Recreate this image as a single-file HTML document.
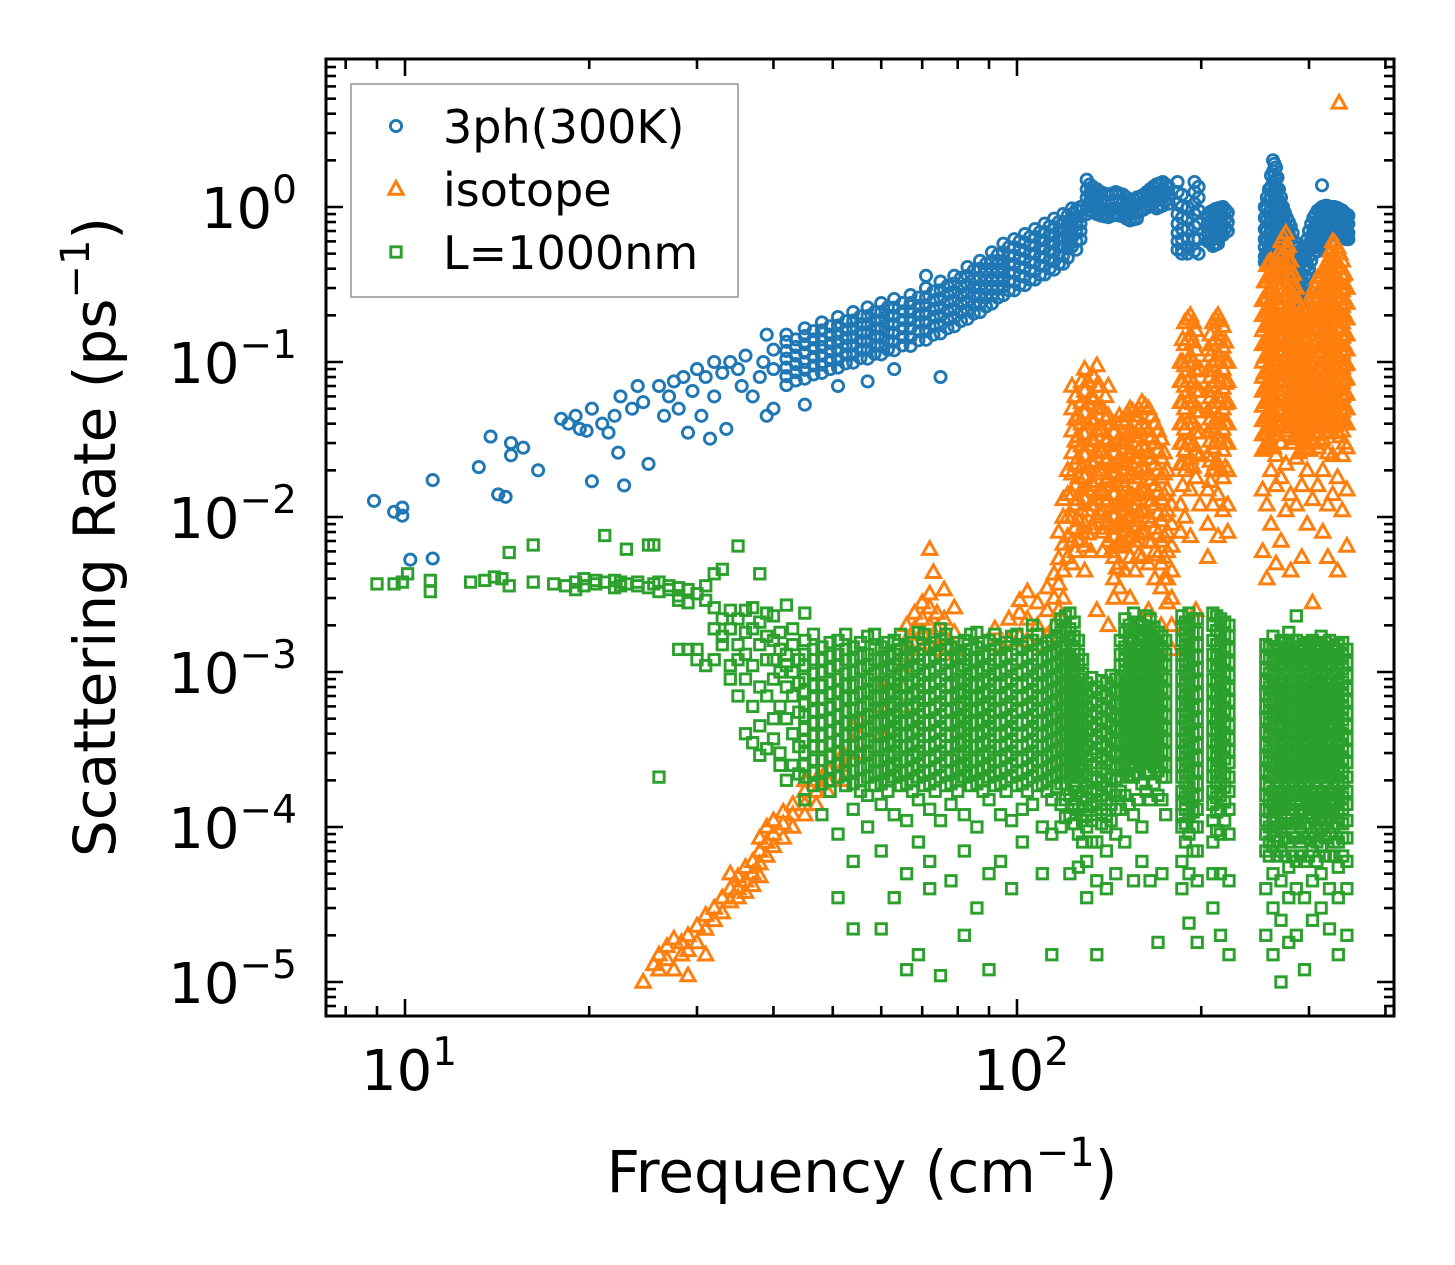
<!DOCTYPE html>
<html><head><meta charset="utf-8"><title>Scattering Rate vs Frequency</title>
<style>
html,body{margin:0;padding:0;background:#fff;}
svg{display:block;font-family:"DejaVu Sans","Liberation Sans",sans-serif;}
</style></head>
<body>
<svg id="chart" width="1455" height="1265" viewBox="0 0 1455 1265" xmlns="http://www.w3.org/2000/svg">
<rect width="1455" height="1265" fill="#fff"/>
<g id="marks"></g>
<g id="axes"></g>
<g id="legend"></g>
</svg>
<script>
// ---- data: [frequency (cm^-1), [scattering rates (ps^-1)...]] ----
const series3ph = [
[8.9,[0.0127]],[9.6,[0.0108]],[9.9,[0.0115,0.0102]],[10.2,[0.0053]],[11.1,[0.0173,0.0054]],
[13.2,[0.021]],[13.8,[0.033]],[14.2,[0.014]],[14.6,[0.0135]],[14.9,[0.030,0.025]],[15.6,[0.028]],[16.5,[0.020]],
[18,[0.043]],[18.5,[0.040]],[19,[0.045]],[19.3,[0.037]],[19.8,[0.036]],[20.2,[0.05,0.017]],[21,[0.04]],[21.5,[0.035]],
[22,[0.045]],[22.3,[0.026]],[22.5,[0.06]],[22.8,[0.016]],[23.5,[0.05]],[24,[0.07]],[24.5,[0.055]],[25,[0.022]],
[26,[0.07]],[26.5,[0.045]],[27,[0.06]],[27.5,[0.075]],[28,[0.05]],[28.5,[0.08]],[29,[0.035]],[29.5,[0.065]],
[30,[0.09]],[30.5,[0.045]],[31,[0.08]],[31.5,[0.032]],[32,[0.1,0.06]],[33,[0.085]],[33.5,[0.037]],[34,[0.1]],
[35,[0.09]],[35.5,[0.07]],[36,[0.11]],[37,[0.06]],[38,[0.08]],[38.5,[0.1]],[39,[0.15,0.045]],[40,[0.09,0.05,0.12]],
[42,[0.15,0.135,0.118,0.105,0.092,0.081,0.071]],[43.5,[0.14,0.125,0.11,0.097,0.086,0.076]],
[45,[0.165,0.147,0.13,0.115,0.1,0.089,0.078,0.053]],[46.5,[0.158,0.14,0.123,0.108,0.095,0.083]],
[48,[0.18,0.16,0.14,0.125,0.11,0.096,0.085]],[49.5,[0.17,0.15,0.132,0.117,0.103,0.09]],
[51,[0.195,0.172,0.152,0.135,0.119,0.104,0.092,0.07]],[52.5,[0.183,0.162,0.143,0.127,0.112,0.098]],
[54,[0.21,0.185,0.164,0.145,0.128,0.112,0.099]],[55.5,[0.197,0.175,0.155,0.137,0.12,0.106]],
[57,[0.225,0.198,0.175,0.155,0.136,0.12,0.105,0.075]],[58.5,[0.21,0.186,0.165,0.146,0.128,0.113]],
[60,[0.24,0.21,0.186,0.165,0.145,0.127,0.112]],[61.5,[0.225,0.2,0.176,0.156,0.137,0.12]],
[63,[0.255,0.224,0.198,0.175,0.154,0.135,0.119,0.09]],[65,[0.24,0.212,0.187,0.165,0.145,0.128]],
[67,[0.27,0.24,0.211,0.187,0.165,0.144,0.127]],[69,[0.26,0.23,0.203,0.18,0.158,0.138]],
[71,[0.3,0.262,0.232,0.205,0.18,0.158,0.139,0.36]],[73,[0.285,0.25,0.22,0.195,0.171,0.15]],
[75,[0.33,0.29,0.255,0.225,0.198,0.173,0.153,0.08]],[77,[0.31,0.275,0.243,0.214,0.188,0.165]],
[79,[0.36,0.32,0.283,0.25,0.22,0.193,0.17]],[81,[0.35,0.305,0.27,0.238,0.21,0.184]],
[83,[0.41,0.36,0.316,0.28,0.246,0.216,0.19]],[85,[0.39,0.34,0.3,0.265,0.233,0.205]],
[87,[0.45,0.4,0.35,0.31,0.273,0.24,0.21]],[89,[0.43,0.38,0.335,0.295,0.26,0.228]],
[91,[0.51,0.45,0.4,0.35,0.308,0.27,0.238]],[93,[0.49,0.43,0.38,0.335,0.295,0.26]],
[95,[0.58,0.51,0.45,0.4,0.35,0.308,0.27]],[97,[0.55,0.48,0.425,0.375,0.33,0.29]],
[99,[0.62,0.55,0.486,0.43,0.378,0.33,0.29]],[101,[0.6,0.53,0.465,0.41,0.36,0.315]],
[103,[0.67,0.59,0.52,0.46,0.405,0.354,0.313]],[105,[0.64,0.565,0.5,0.44,0.387,0.34]],
[107,[0.72,0.64,0.565,0.5,0.44,0.385,0.34]],[109,[0.69,0.61,0.54,0.475,0.418,0.366]],
[111,[0.78,0.69,0.61,0.54,0.475,0.416,0.367]],[113,[0.75,0.66,0.585,0.515,0.453,0.4]],
[115,[0.84,0.74,0.655,0.58,0.51,0.447,0.394]],[117,[0.8,0.71,0.63,0.555,0.488,0.43]],
[119,[0.9,0.8,0.71,0.63,0.555,0.485,0.43]],[121,[0.88,0.78,0.69,0.61,0.54,0.47]],
[123,[0.98,0.9,0.81,0.72,0.634,0.555]],[125,[0.96,0.86,0.77,0.68,0.6,0.53]],
[127,[1.0,0.95,0.87,0.78,0.7,0.62]],
[130,[1.5,1.3,1.15,1.0,0.9]],[131.5,[1.4,1.22,1.08,0.95]],[133,[1.35,1.2,1.05,0.93]],[135,[1.3,1.15,1.01,0.9]],[137,[1.25,1.1,0.98,0.88]],[139,[1.22,1.08,0.96,0.87]],[141,[1.2,1.07,0.95,0.86]],
[143,[1.22,1.08,0.97,0.88]],[145,[1.25,1.1,0.98,0.9]],[147,[1.22,1.09,0.97,0.88]],[149,[1.2,1.08,0.96,0.87]],[151,[1.15,1.04,0.93,0.84]],[153,[1.1,1.0,0.9,0.82]],[155,[1.12,1.01,0.91,0.83]],[157,[1.15,1.02,0.92,0.84]],
[159,[1.17,1.05,0.94]],[161,[1.2,1.08,0.96]],[163,[1.25,1.11,0.99]],[165,[1.3,1.15,1.02]],[167,[1.35,1.2,1.06]],[169,[1.4,1.25,1.1,0.98]],[171,[1.42,1.27,1.12,1.0]],[173,[1.45,1.3,1.15,1.02]],[175,[1.4,1.25,1.1]],[177,[1.35,1.2,1.05]],
[183,[1.45,1.25,1.05,0.9,0.78,0.68,0.6,0.53]],[186,[1.2,1.0,0.85,0.72,0.62,0.53,0.5]],[190,[1.0,0.85,0.72,0.62,0.55,0.5]],
[195,[1.45,1.25,1.05,0.9,0.75,0.62,0.52]],[198,[1.35,1.15,0.95,0.78,0.62,0.5]],
[205,[0.9,0.78,0.68,0.6]],[207,[0.93,0.8,0.7,0.6]],[209,[0.95,0.82,0.72,0.62,0.56]],[211,[0.97,0.84,0.73,0.63,0.57]],[213,[0.98,0.85,0.74,0.64,0.58]],[215,[0.99,0.86,0.75,0.65]],[217,[1.0,0.88,0.76,0.66]],[219,[0.96,0.84,0.73]],[221,[0.92,0.8,0.7]],
[254,[1.0,0.85,0.72,0.62,0.55,0.48,0.44]],[256,[1.15,0.97,0.82,0.7,0.6,0.51,0.45]],[258,[1.3,1.1,0.92,0.78,0.66,0.56,0.47]],[260,[1.6,1.35,1.15,0.98,0.84,0.71,0.6,0.5]],
[262,[2.0,1.7,1.45,1.25,1.05,0.9,0.76,0.64,0.54]],[263.5,[1.9,1.6,1.35,1.15,0.97,0.82,0.69,0.58]],[265,[1.8,1.5,1.25,1.05,0.88,0.74,0.62]],[266.5,[1.55,1.3,1.1,0.92,0.78,0.66,0.56]],
[268,[1.3,1.1,0.92,0.78,0.66,0.56]],[270,[1.15,0.97,0.82,0.7,0.59,0.5]],[272,[1.0,0.85,0.72,0.62,0.52,0.45]],[274,[0.92,0.78,0.66,0.56,0.47,0.4]],[276,[0.85,0.72,0.6,0.5,0.42,0.36]],[278,[0.8,0.67,0.55,0.46,0.38,0.32]],
[280,[0.75,0.62,0.5,0.42,0.35]],[282,[0.68,0.56,0.45,0.37,0.31]],[284,[0.6,0.5,0.4,0.33,0.28]],[286,[0.55,0.45,0.36,0.3,0.25]],[288,[0.5,0.4,0.32,0.26,0.22]],[290,[0.47,0.38,0.3,0.25]],[292,[0.45,0.36,0.29,0.24]],
[294,[0.5,0.4,0.32,0.27]],[296,[0.55,0.45,0.36,0.3]],[298,[0.62,0.51,0.42,0.35]],[300,[0.7,0.58,0.48,0.4]],[302.5,[0.78,0.65,0.54,0.45]],[305,[0.85,0.72,0.6,0.5]],[307.5,[0.9,0.77,0.65,0.55]],[310,[0.95,0.82,0.7,0.6,0.52]],[312.5,[0.97,0.85,0.73,0.63,0.55]],
[315,[1.0,0.88,0.76,0.66,0.58,1.38]],[317.5,[1.01,0.89,0.77,0.67,0.59]],[320,[1.02,0.9,0.78,0.68,0.6]],[322.5,[1.01,0.89,0.78,0.68]],[325,[1.0,0.88,0.77,0.67]],[327.5,[1.0,0.88,0.78,0.68,0.6]],[330,[1.0,0.88,0.78,0.68,0.6]],
[332.5,[0.99,0.87,0.76,0.66]],[335,[0.98,0.86,0.75,0.65]],[337.5,[0.96,0.85,0.74,0.64]],[340,[0.95,0.84,0.74,0.64]],[342.5,[0.92,0.82,0.72,0.63]],[345,[0.9,0.8,0.7,0.62]],[348,[0.88,0.78,0.68,0.62]]
];
const seriesIsotope = [
[24.5,[1e-5]],[25.5,[1.3e-5]],[26,[1.5e-5,1.2e-5]],[26.8,[1.7e-5,1.4e-5]],[27.5,[1.9e-5,1.2e-5]],[28.3,[1.8e-5,1.5e-5]],
[29,[2e-5,1.1e-5,1.6e-5]],[30,[2.3e-5,1.8e-5]],[31,[2.7e-5,2.2e-5,1.5e-5]],[32,[3e-5,2.5e-5]],[33,[3.5e-5,2.8e-5]],
[34,[4e-5,3.3e-5,5e-5]],[35,[4.8e-5,4e-5,3.5e-5]],[36,[5.5e-5,4.5e-5,3.8e-5]],[37,[6e-5,5e-5,4.2e-5]],
[38,[7e-5,5.8e-5,4.8e-5,8.5e-5]],[39,[8e-5,6.5e-5,1e-4]],[40,[9e-5,1.1e-4,7.5e-5]],[41.5,[1.05e-4,1.25e-4,8.5e-5]],
[43,[1.2e-4,1.4e-4,1e-4]],[45,[1.4e-4,1.7e-4,1.2e-4,2e-4]],[47,[1.7e-4,2e-4,1.4e-4]],[49,[2e-4,2.4e-4,1.7e-4]],
[52,[2.5e-4,3e-4,2e-4]],[55,[3e-4,4e-4,5e-4]],[60,[4e-4,6e-4,8e-4]],[65,[6e-4,8e-4,1.1e-3,1.3e-3]],
[66,[1.6e-3,2e-3]],[68,[1.5e-3,1.9e-3,2.4e-3]],[70,[1.4e-3,1.8e-3,2.2e-3,2.8e-3]],[72,[1.5e-3,2e-3,2.6e-3,3.2e-3,6.2e-3]],
[73,[4.4e-3]],[74,[1.4e-3,1.9e-3,2.4e-3]],[76,[1.3e-3,1.7e-3,2.2e-3,3.4e-3]],[79,[1.4e-3,1.8e-3,2.6e-3]],
[92,[1.5e-3,1.9e-3]],[97,[1.6e-3,2.2e-3]],[101,[1.7e-3,2.4e-3,2.9e-3]],[104,[1.6e-3,2.2e-3,3.3e-3]],[108,[1.5e-3,2e-3,2.8e-3]],
[112,[1.7e-3,2.5e-3,3.5e-3]],[115,[2e-3,3e-3,4.3e-3]],[117,[2.5e-3,3.7e-3,5.4e-3,8e-3]],[119,[3e-3,4.5e-3,6.7e-3,1e-2,1.3e-2]],
[121,[0.02,0.014,0.01,0.0075,0.0055]],
[123,[0.07,0.05,0.036,0.026,0.019,0.014,0.01,0.007,0.005]],[124.5,[0.06,0.043,0.031,0.022,0.016,0.012,0.0085,0.006]],
[126,[0.045,0.033,0.024,0.018,0.013,0.0095,0.007]],[127.5,[0.075,0.055,0.04,0.029,0.021,0.015,0.011,0.008]],
[129,[0.09,0.065,0.047,0.034,0.025,0.018,0.013,0.009,0.0065,0.0045]],[130.5,[0.075,0.054,0.04,0.029,0.021,0.015,0.011,0.0078]],
[132,[0.06,0.043,0.032,0.023,0.017,0.012,0.0085,0.006]],[133.5,[0.08,0.058,0.042,0.031,0.022,0.016,0.012,0.0085]],
[135,[0.095,0.07,0.05,0.036,0.026,0.019,0.014,0.01,0.0025]],[136.5,[0.07,0.051,0.037,0.027,0.02,0.0145,0.0105]],
[138,[0.05,0.037,0.027,0.02,0.015,0.011,0.008,0.006]],[139.5,[0.06,0.043,0.031,0.023,0.017,0.0125,0.009]],
[141,[0.07,0.045,0.032,0.024,0.018,0.013,0.0095,0.007,0.002]],[142.5,[0.04,0.029,0.021,0.016,0.0115,0.0085,0.006]],
[144,[0.035,0.026,0.019,0.014,0.01,0.0075,0.0055,0.004,0.003]],[145.5,[0.04,0.03,0.022,0.016,0.0118,0.0087,0.0064,0.0047]],
[147,[0.045,0.032,0.024,0.018,0.013,0.0095,0.007,0.005,0.0035]],[148.5,[0.042,0.031,0.023,0.017,0.0125,0.0092,0.0068]],
[150,[0.04,0.03,0.022,0.016,0.012,0.009,0.0065,0.0045]],[151.5,[0.046,0.034,0.025,0.018,0.0135,0.0099,0.0073]],
[153,[0.05,0.036,0.026,0.019,0.014,0.01,0.0075,0.0055,0.003]],[154.5,[0.048,0.035,0.026,0.019,0.0138,0.0102,0.0075]],
[156,[0.045,0.033,0.024,0.018,0.013,0.0095,0.007,0.0045]],[158,[0.05,0.037,0.027,0.02,0.0145,0.0107,0.0078,0.0057]],
[160,[0.055,0.04,0.029,0.021,0.015,0.011,0.008,0.0055]],[162,[0.052,0.038,0.028,0.0205,0.015,0.011,0.008]],
[164,[0.05,0.036,0.026,0.019,0.014,0.01,0.007,0.005,0.0025]],[166,[0.045,0.033,0.024,0.0175,0.0128,0.0094,0.0069]],
[168,[0.04,0.03,0.022,0.016,0.012,0.0085,0.006,0.004]],[170,[0.036,0.027,0.02,0.0145,0.0106,0.0078,0.0057]],
[172,[0.032,0.024,0.018,0.013,0.0095,0.007,0.005,0.0035,0.002]],[174,[0.026,0.019,0.014,0.0103,0.0075,0.0055,0.004]],
[176,[0.02,0.015,0.011,0.008,0.006,0.004,0.0028]],
[179,[0.012,0.009,0.0065,0.0045,0.003,0.002,0.0014]],
[185,[0.1,0.075,0.055,0.04,0.03,0.022,0.012,0.008]],[186.5,[0.14,0.1,0.075,0.055,0.04,0.03,0.022,0.016]],
[188,[0.18,0.13,0.095,0.07,0.05,0.037,0.027,0.02,0.01]],[190,[0.19,0.14,0.1,0.075,0.055,0.04,0.03,0.022]],
[192,[0.2,0.15,0.11,0.08,0.06,0.044,0.032,0.024,0.015,0.0075]],[194,[0.18,0.135,0.1,0.073,0.054,0.04,0.029,0.021]],
[196,[0.16,0.12,0.088,0.065,0.048,0.035,0.026,0.018,0.0025]],
[199,[0.09,0.065,0.048,0.035,0.025,0.012]],
[205,[0.12,0.088,0.065,0.048,0.035,0.025,0.015,0.009,0.0055]],[207,[0.15,0.11,0.08,0.059,0.043,0.031,0.023,0.017]],
[209,[0.18,0.13,0.095,0.07,0.05,0.038,0.028,0.02,0.012]],[211,[0.19,0.14,0.103,0.075,0.055,0.041,0.03,0.022]],
[213,[0.2,0.15,0.11,0.08,0.06,0.045,0.033,0.022,0.014,0.0075]],[215,[0.185,0.137,0.1,0.074,0.055,0.04,0.03,0.02]],
[217,[0.17,0.125,0.09,0.068,0.05,0.037,0.027,0.018,0.011]],[219,[0.135,0.1,0.073,0.054,0.04,0.03,0.021]],
[221,[0.1,0.075,0.055,0.04,0.03,0.02,0.012,0.008]],
[252,[0.25,0.2,0.16,0.13,0.1,0.08,0.065,0.052,0.042,0.034,0.027,0.015,0.006]],
[254,[0.33,0.26,0.21,0.17,0.135,0.108,0.086,0.069,0.055,0.044,0.035,0.028]],
[256,[0.42,0.33,0.26,0.21,0.17,0.135,0.11,0.085,0.068,0.055,0.044,0.035,0.028,0.012,0.004]],
[258,[0.44,0.35,0.28,0.22,0.176,0.14,0.112,0.09,0.072,0.057,0.046,0.037,0.029]],
[260,[0.45,0.36,0.29,0.23,0.18,0.145,0.115,0.092,0.074,0.06,0.048,0.038,0.03,0.02,0.009]],
[262.5,[0.42,0.34,0.27,0.215,0.172,0.138,0.11,0.088,0.07,0.056,0.045,0.036,0.028]],
[265,[0.4,0.32,0.26,0.2,0.16,0.13,0.1,0.082,0.066,0.053,0.042,0.034,0.025,0.016,0.005]],
[267.5,[0.5,0.4,0.32,0.255,0.2,0.16,0.128,0.102,0.082,0.066,0.053,0.042,0.034]],
[270,[0.6,0.48,0.38,0.3,0.24,0.19,0.15,0.12,0.096,0.077,0.062,0.05,0.04,0.03,0.018,0.007]],
[272.5,[0.64,0.51,0.41,0.32,0.26,0.205,0.164,0.13,0.104,0.083,0.066,0.053,0.042]],
[275,[0.68,0.54,0.43,0.34,0.27,0.22,0.175,0.14,0.11,0.088,0.07,0.056,0.045,0.036,0.022,0.011]],
[277.5,[0.56,0.45,0.36,0.285,0.228,0.182,0.145,0.116,0.093,0.074,0.059,0.047,0.038]],
[280,[0.45,0.36,0.29,0.23,0.18,0.145,0.115,0.092,0.074,0.06,0.048,0.038,0.03,0.014,0.0045]],
[283,[0.37,0.3,0.24,0.19,0.15,0.12,0.096,0.077,0.062,0.05,0.04,0.032]],
[286,[0.3,0.24,0.19,0.15,0.12,0.097,0.078,0.062,0.05,0.04,0.032,0.024,0.012]],
[289,[0.24,0.19,0.155,0.124,0.1,0.08,0.064,0.051,0.041,0.033,0.026]],
[292,[0.2,0.16,0.13,0.1,0.082,0.066,0.053,0.042,0.034,0.027,0.016,0.0055]],
[295,[0.21,0.168,0.135,0.108,0.086,0.069,0.055,0.044,0.035,0.028]],
[298,[0.22,0.175,0.14,0.11,0.09,0.072,0.058,0.046,0.037,0.03,0.02,0.009]],
[301,[0.25,0.2,0.16,0.128,0.102,0.082,0.066,0.053,0.042,0.034,0.027]],
[304,[0.28,0.22,0.18,0.14,0.115,0.092,0.074,0.059,0.047,0.038,0.03,0.013,0.0028]],
[307,[0.31,0.25,0.2,0.16,0.128,0.102,0.082,0.066,0.053,0.042,0.034]],
[310,[0.35,0.28,0.22,0.18,0.14,0.115,0.092,0.074,0.059,0.047,0.038,0.028,0.016]],
[313,[0.36,0.29,0.23,0.185,0.148,0.118,0.095,0.076,0.061,0.049,0.039,0.031]],
[316,[0.38,0.3,0.24,0.19,0.155,0.125,0.1,0.08,0.064,0.051,0.041,0.032,0.02,0.008]],
[319,[0.41,0.33,0.26,0.21,0.168,0.134,0.107,0.086,0.069,0.055,0.044,0.035]],
[322,[0.45,0.36,0.29,0.23,0.18,0.145,0.115,0.092,0.074,0.06,0.048,0.038,0.026,0.012,0.0055]],
[325,[0.52,0.42,0.33,0.265,0.21,0.17,0.135,0.108,0.087,0.07,0.056,0.045,0.036]],
[328,[0.6,0.48,0.38,0.3,0.24,0.19,0.15,0.12,0.096,0.077,0.062,0.05,0.04,0.025,0.014]],
[331,[0.58,0.46,0.37,0.29,0.235,0.188,0.15,0.12,0.096,0.077,0.061,0.049,0.039]],
[334,[0.55,0.44,0.35,0.28,0.22,0.18,0.14,0.11,0.09,0.072,0.058,0.046,0.035,0.018,0.0045]],
[337,[0.5,0.4,0.32,0.255,0.2,0.16,0.128,0.102,0.082,0.066,0.053,0.042,0.033]],
[340,[0.45,0.36,0.29,0.23,0.18,0.145,0.115,0.092,0.074,0.06,0.048,0.036,0.025,0.011]],
[343,[0.37,0.3,0.24,0.19,0.15,0.12,0.096,0.077,0.062,0.05,0.04,0.03]],
[346,[0.3,0.24,0.19,0.15,0.12,0.097,0.078,0.062,0.05,0.04,0.028,0.015,0.0065]],
[336,[4.7]]
];
const seriesL1000 = [
[9,[3.7e-3]],[9.6,[3.7e-3]],[9.9,[3.8e-3]],[10.1,[4.3e-3]],[11,[3.3e-3,3.9e-3]],[12.8,[3.8e-3]],[13.5,[3.9e-3]],
[14,[4.1e-3]],[14.4,[4e-3]],[14.8,[3.6e-3,5.9e-3]],[16.2,[3.8e-3,6.6e-3]],[17.5,[3.7e-3]],[18.3,[3.6e-3]],
[19,[3.8e-3,3.4e-3]],[19.6,[4e-3,3.6e-3]],[20.5,[3.7e-3,3.9e-3]],[21.2,[3.8e-3,7.6e-3]],[22,[3.5e-3,3.9e-3]],
[22.5,[3.8e-3,3.6e-3]],[23,[3.7e-3,6.2e-3]],[24,[3.6e-3,3.8e-3]],[25,[3.5e-3,6.6e-3]],[25.5,[3.7e-3,6.6e-3]],
[26,[3.3e-3,3.8e-3,2.1e-4]],[27,[3.4e-3,3.6e-3]],[28,[3.1e-3,3.5e-3,2.9e-3,1.4e-3]],[29,[3.4e-3,2.8e-3,1.4e-3]],
[30,[3.2e-3,1.2e-3,1.4e-3]],[31,[2.9e-3,3.6e-3,1.1e-3]],[32,[1.9e-3,2.6e-3,4.3e-3,1.2e-3]],[33,[1.7e-3,2.2e-3,1.5e-3,4.6e-3]],
[34,[1.9e-3,1.1e-3,2.5e-3,9e-4]],[35,[1.5e-3,2.2e-3,7e-4,1.2e-3,6.5e-3]],[36,[1.3e-3,2.5e-3,9e-4,4e-4,1.8e-3]],
[37,[1.9e-3,1.1e-3,6e-4,3.5e-4,2.6e-3]],[38,[1.5e-3,8e-4,4.5e-4,2.9e-4,2.1e-3,4.3e-3]],[39,[1.2e-3,7e-4,3.2e-4,1.7e-3,2.4e-3]],
[40,[1.6e-3,9e-4,5e-4,3.7e-4,2.3e-3,1.2e-3]],[41,[1.4e-3,1e-3,6e-4,3e-4,2.5e-4,1.8e-3]],[42,[1.3e-3,8e-4,5e-4,2e-4,2.7e-3,1.1e-3]],
[43,[1.5e-3,1e-3,7e-4,4e-4,2.5e-4,1.9e-3]],[44,[1.2e-3,8.5e-4,5.5e-4,3.3e-4,2.2e-4]],
[45,[1.6e-3,1.3e-3,1.1e-3,9e-4,7.5e-4,6.2e-4,5.2e-4,4.3e-4,3.6e-4,3e-4,2.5e-4,2.1e-4,2.4e-3,1.5e-4]],
[46.5,[1.75e-3,1.4e-3,1.2e-3,9.8e-4,8.2e-4,6.8e-4,5.6e-4,4.7e-4,3.9e-4,3.3e-4,2.7e-4,2.25e-4,1.85e-4]],
[48,[1.45e-3,1.2e-3,1e-3,8.2e-4,6.8e-4,5.7e-4,4.7e-4,3.9e-4,3.3e-4,2.7e-4,2.3e-4,1.9e-4,1.2e-4]],
[49.5,[1.55e-3,1.27e-3,1.05e-3,8.6e-4,7.2e-4,5.9e-4,4.9e-4,4.1e-4,3.45e-4,2.85e-4,2.4e-4,2e-4,1.7e-4]],
[51,[1.6e-3,1.3e-3,1.1e-3,9e-4,7.5e-4,6.2e-4,5.2e-4,4.3e-4,3.6e-4,3e-4,2.5e-4,2.1e-4,9e-5,3.5e-5]],
[52.5,[1.75e-3,1.4e-3,1.2e-3,9.8e-4,8.2e-4,6.8e-4,5.6e-4,4.7e-4,3.9e-4,3.3e-4,2.7e-4,2.25e-4,1.85e-4]],
[54,[1.45e-3,1.2e-3,1e-3,8.2e-4,6.8e-4,5.7e-4,4.7e-4,3.9e-4,3.3e-4,2.7e-4,2.3e-4,1.9e-4,1.3e-4,6e-5,2.2e-5]],
[55.5,[1.55e-3,1.27e-3,1.05e-3,8.6e-4,7.2e-4,5.9e-4,4.9e-4,4.1e-4,3.45e-4,2.85e-4,2.4e-4,2e-4,1.7e-4]],
[57,[1.7e-3,1.3e-3,1.1e-3,9e-4,7.5e-4,6.2e-4,5.2e-4,4.3e-4,3.6e-4,3e-4,2.5e-4,2.1e-4,1.6e-4,1e-4]],
[58.5,[1.75e-3,1.4e-3,1.2e-3,9.8e-4,8.2e-4,6.8e-4,5.6e-4,4.7e-4,3.9e-4,3.3e-4,2.7e-4,2.25e-4,1.85e-4]],
[60,[1.45e-3,1.2e-3,1e-3,8.2e-4,6.8e-4,5.7e-4,4.7e-4,3.9e-4,3.3e-4,2.7e-4,2.3e-4,1.9e-4,1.4e-4,7e-5,2.2e-5]],
[61.5,[1.55e-3,1.27e-3,1.05e-3,8.6e-4,7.2e-4,5.9e-4,4.9e-4,4.1e-4,3.45e-4,2.85e-4,2.4e-4,2e-4,1.7e-4]],
[63,[1.6e-3,1.3e-3,1.1e-3,9e-4,7.5e-4,6.2e-4,5.2e-4,4.3e-4,3.6e-4,3e-4,2.5e-4,2.1e-4,1.2e-4,3.5e-5]],
[64.5,[1.75e-3,1.4e-3,1.2e-3,9.8e-4,8.2e-4,6.8e-4,5.6e-4,4.7e-4,3.9e-4,3.3e-4,2.7e-4,2.25e-4,1.85e-4]],
[66,[1.45e-3,1.2e-3,1e-3,8.2e-4,6.8e-4,5.7e-4,4.7e-4,3.9e-4,3.3e-4,2.7e-4,2.3e-4,1.9e-4,1.1e-4,5e-5,1.2e-5]],
[67.5,[1.55e-3,1.27e-3,1.05e-3,8.6e-4,7.2e-4,5.9e-4,4.9e-4,4.1e-4,3.45e-4,2.85e-4,2.4e-4,2e-4,1.7e-4]],
[69,[1.8e-3,1.3e-3,1.1e-3,9e-4,7.5e-4,6.2e-4,5.2e-4,4.3e-4,3.6e-4,3e-4,2.5e-4,2.1e-4,1.5e-4,8e-5,1.5e-5]],
[70.5,[1.75e-3,1.4e-3,1.2e-3,9.8e-4,8.2e-4,6.8e-4,5.6e-4,4.7e-4,3.9e-4,3.3e-4,2.7e-4,2.25e-4,1.85e-4]],
[72,[1.45e-3,1.2e-3,1e-3,8.2e-4,6.8e-4,5.7e-4,4.7e-4,3.9e-4,3.3e-4,2.7e-4,2.3e-4,1.9e-4,1.3e-4,6e-5,4e-5]],
[73.5,[1.55e-3,1.27e-3,1.05e-3,8.6e-4,7.2e-4,5.9e-4,4.9e-4,4.1e-4,3.45e-4,2.85e-4,2.4e-4,2e-4,1.7e-4]],
[75,[1.9e-3,1.6e-3,1.3e-3,1.1e-3,9e-4,7.5e-4,6.2e-4,5.2e-4,4.3e-4,3.6e-4,3e-4,2.5e-4,2.1e-4,1.1e-4,1.1e-5]],
[76.5,[1.75e-3,1.4e-3,1.2e-3,9.8e-4,8.2e-4,6.8e-4,5.6e-4,4.7e-4,3.9e-4,3.3e-4,2.7e-4,2.25e-4,1.85e-4]],
[78,[1.45e-3,1.2e-3,1e-3,8.2e-4,6.8e-4,5.7e-4,4.7e-4,3.9e-4,3.3e-4,2.7e-4,2.3e-4,1.9e-4,1.4e-4,4.5e-5]],
[80,[1.55e-3,1.27e-3,1.05e-3,8.6e-4,7.2e-4,5.9e-4,4.9e-4,4.1e-4,3.45e-4,2.85e-4,2.4e-4,2e-4,1.7e-4]],
[82,[1.6e-3,1.3e-3,1.1e-3,9e-4,7.5e-4,6.2e-4,5.2e-4,4.3e-4,3.6e-4,3e-4,2.5e-4,2.1e-4,1.2e-4,7e-5,2e-5]],
[84,[1.75e-3,1.4e-3,1.2e-3,9.8e-4,8.2e-4,6.8e-4,5.6e-4,4.7e-4,3.9e-4,3.3e-4,2.7e-4,2.25e-4,1.85e-4]],
[86,[1.8e-3,1.45e-3,1.2e-3,1e-3,8.2e-4,6.8e-4,5.7e-4,4.7e-4,3.9e-4,3.3e-4,2.7e-4,2.3e-4,1.9e-4,1e-4,3e-5]],
[88,[1.55e-3,1.27e-3,1.05e-3,8.6e-4,7.2e-4,5.9e-4,4.9e-4,4.1e-4,3.45e-4,2.85e-4,2.4e-4,2e-4,1.7e-4]],
[90,[1.6e-3,1.3e-3,1.1e-3,9e-4,7.5e-4,6.2e-4,5.2e-4,4.3e-4,3.6e-4,3e-4,2.5e-4,2.1e-4,1.5e-4,5e-5,1.2e-5]],
[92,[1.75e-3,1.4e-3,1.2e-3,9.8e-4,8.2e-4,6.8e-4,5.6e-4,4.7e-4,3.9e-4,3.3e-4,2.7e-4,2.25e-4,1.85e-4]],
[94,[1.45e-3,1.2e-3,1e-3,8.2e-4,6.8e-4,5.7e-4,4.7e-4,3.9e-4,3.3e-4,2.7e-4,2.3e-4,1.9e-4,1.2e-4,6e-5]],
[96,[1.55e-3,1.27e-3,1.05e-3,8.6e-4,7.2e-4,5.9e-4,4.9e-4,4.1e-4,3.45e-4,2.85e-4,2.4e-4,2e-4,1.7e-4]],
[98,[1.7e-3,1.3e-3,1.1e-3,9e-4,7.5e-4,6.2e-4,5.2e-4,4.3e-4,3.6e-4,3e-4,2.5e-4,2.1e-4,1.1e-4,4e-5]],
[100,[1.75e-3,1.4e-3,1.2e-3,9.8e-4,8.2e-4,6.8e-4,5.6e-4,4.7e-4,3.9e-4,3.3e-4,2.7e-4,2.25e-4,1.85e-4]],
[102,[1.45e-3,1.2e-3,1e-3,8.2e-4,6.8e-4,5.7e-4,4.7e-4,3.9e-4,3.3e-4,2.7e-4,2.3e-4,1.9e-4,1.3e-4,8e-5]],
[104,[1.55e-3,1.27e-3,1.05e-3,8.6e-4,7.2e-4,5.9e-4,4.9e-4,4.1e-4,3.45e-4,2.85e-4,2.4e-4,2e-4,1.7e-4]],
[106,[2e-3,1.6e-3,1.3e-3,1.1e-3,9e-4,7.5e-4,6.2e-4,5.2e-4,4.3e-4,3.6e-4,3e-4,2.5e-4,2.1e-4,1.4e-4]],
[108,[1.75e-3,1.4e-3,1.2e-3,9.8e-4,8.2e-4,6.8e-4,5.6e-4,4.7e-4,3.9e-4,3.3e-4,2.7e-4,2.25e-4,1.85e-4]],
[110,[1.45e-3,1.2e-3,1e-3,8.2e-4,6.8e-4,5.7e-4,4.7e-4,3.9e-4,3.3e-4,2.7e-4,2.3e-4,1.9e-4,1e-4,5e-5]],
[112,[1.55e-3,1.27e-3,1.05e-3,8.6e-4,7.2e-4,5.9e-4,4.9e-4,4.1e-4,3.45e-4,2.85e-4,2.4e-4,2e-4,1.7e-4]],
[114,[1.6e-3,1.3e-3,1.1e-3,9e-4,7.5e-4,6.2e-4,5.2e-4,4.3e-4,3.6e-4,3e-4,2.5e-4,2.1e-4,1.5e-4,9e-5,1.5e-5]],
[116,[2e-3,1.65e-3,1.35e-3,1.12e-3,9.3e-4,7.7e-4,6.4e-4,5.3e-4,4.4e-4,3.7e-4,3.1e-4,2.6e-4,2.15e-4,1.8e-4]],
[118,[2.2e-3,1.8e-3,1.45e-3,1.2e-3,1e-3,8.2e-4,6.8e-4,5.7e-4,4.7e-4,3.9e-4,3.3e-4,2.7e-4,2.3e-4,1.9e-4,1.4e-4,1e-4]],
[120,[2.3e-3,1.85e-3,1.5e-3,1.25e-3,1.03e-3,8.5e-4,7e-4,5.8e-4,4.8e-4,4e-4,3.35e-4,2.8e-4,2.3e-4,1.9e-4,1.5e-4,1.15e-4]],
[122,[2.4e-3,1.9e-3,1.6e-3,1.3e-3,1.1e-3,9e-4,7.5e-4,6.2e-4,5.2e-4,4.3e-4,3.6e-4,3e-4,2.5e-4,2.1e-4,1.6e-4,1.2e-4,5e-5]],
[124,[2.1e-3,1.7e-3,1.4e-3,1.15e-3,9.6e-4,8e-4,6.6e-4,5.5e-4,4.6e-4,3.8e-4,3.2e-4,2.65e-4,2.2e-4,1.8e-4,1.4e-4,1.05e-4]],
[126,[1.6e-3,1.3e-3,1.1e-3,9e-4,7.5e-4,6.2e-4,5.2e-4,4.3e-4,3.6e-4,3e-4,2.5e-4,2.1e-4,1.7e-4,1.3e-4,9e-5,5.5e-5]],
[128,[1.2e-3,9.8e-4,8e-4,6.6e-4,5.5e-4,4.5e-4,3.7e-4,3.1e-4,2.5e-4,2.1e-4,1.7e-4,1.35e-4,1.1e-4,8e-5]],
[130,[8.5e-4,7e-4,5.8e-4,4.8e-4,4e-4,3.3e-4,2.7e-4,2.2e-4,1.8e-4,1.5e-4,1.2e-4,1e-4,6e-5,3.5e-5]],
[132.5,[9.2e-4,7.6e-4,6.3e-4,5.2e-4,4.3e-4,3.6e-4,2.95e-4,2.45e-4,2e-4,1.65e-4,1.35e-4,1.1e-4,8e-5]],
[135,[8e-4,6.6e-4,5.5e-4,4.6e-4,3.8e-4,3.2e-4,2.6e-4,2.1e-4,1.75e-4,1.45e-4,1.2e-4,8e-5,4.5e-5,1.5e-5]],
[137.5,[8.8e-4,7.3e-4,6e-4,5e-4,4.15e-4,3.45e-4,2.85e-4,2.35e-4,1.95e-4,1.6e-4,1.3e-4,1.05e-4]],
[140,[8.5e-4,7e-4,5.8e-4,4.8e-4,4e-4,3.3e-4,2.7e-4,2.2e-4,1.8e-4,1.5e-4,1.2e-4,1e-4,7e-5,4e-5]],
[142.5,[9.5e-4,7.8e-4,6.5e-4,5.4e-4,4.45e-4,3.7e-4,3.05e-4,2.5e-4,2.05e-4,1.7e-4,1.4e-4,1.1e-4]],
[145,[9e-4,7.4e-4,6.1e-4,5e-4,4.2e-4,3.5e-4,2.9e-4,2.4e-4,2e-4,1.6e-4,1.3e-4,9e-5,5e-5]],
[147.5,[1.6e-3,1.3e-3,1.1e-3,9e-4,7.5e-4,6.2e-4,5.2e-4,4.3e-4,3.6e-4,3e-4,2.5e-4,2.1e-4,1.7e-4,1.3e-4]],
[150,[2.2e-3,1.8e-3,1.45e-3,1.2e-3,1e-3,8.2e-4,6.8e-4,5.7e-4,4.7e-4,3.9e-4,3.3e-4,2.7e-4,2.3e-4,1.6e-4,8e-5]],
[152.5,[2e-3,1.65e-3,1.35e-3,1.12e-3,9.3e-4,7.7e-4,6.4e-4,5.3e-4,4.4e-4,3.7e-4,3.1e-4,2.6e-4,2.15e-4,1.4e-4]],
[155,[2.4e-3,1.9e-3,1.6e-3,1.3e-3,1.1e-3,9e-4,7.5e-4,6.2e-4,5.2e-4,4.3e-4,3.6e-4,3e-4,2.5e-4,2.1e-4,1.2e-4,4.5e-5]],
[157.5,[2.1e-3,1.75e-3,1.45e-3,1.2e-3,1e-3,8.3e-4,6.9e-4,5.7e-4,4.75e-4,3.95e-4,3.3e-4,2.75e-4,2.2e-4,1.5e-4]],
[160,[2e-3,1.7e-3,1.4e-3,1.15e-3,9.5e-4,7.8e-4,6.5e-4,5.4e-4,4.5e-4,3.7e-4,3.1e-4,2.6e-4,1.9e-4,1e-4,6e-5]],
[162.5,[2.3e-3,1.85e-3,1.5e-3,1.25e-3,1.03e-3,8.5e-4,7e-4,5.8e-4,4.8e-4,4e-4,3.35e-4,2.8e-4,2.3e-4,1.7e-4]],
[165,[2.2e-3,1.8e-3,1.45e-3,1.2e-3,1e-3,8.2e-4,6.8e-4,5.7e-4,4.7e-4,3.9e-4,3.3e-4,2.7e-4,2.2e-4,1.5e-4,4.5e-5]],
[167.5,[1.95e-3,1.6e-3,1.32e-3,1.1e-3,9.1e-4,7.5e-4,6.2e-4,5.15e-4,4.3e-4,3.55e-4,2.95e-4,2.45e-4,1.9e-4]],
[170,[1.8e-3,1.5e-3,1.25e-3,1.05e-3,8.7e-4,7.2e-4,6e-4,5e-4,4.1e-4,3.4e-4,2.8e-4,2.3e-4,1.6e-4,1.8e-5]],
[172.5,[1.7e-3,1.4e-3,1.15e-3,9.5e-4,7.9e-4,6.5e-4,5.4e-4,4.5e-4,3.7e-4,3.1e-4,2.6e-4,2.1e-4,1.5e-4,5e-5]],
[175,[1.6e-3,1.3e-3,1.1e-3,9e-4,7.5e-4,6.2e-4,5.2e-4,4.3e-4,3.6e-4,3e-4,2.5e-4,2.1e-4,1.2e-4]],
[186,[2.3e-3,1.9e-3,1.6e-3,1.3e-3,1.1e-3,9e-4,7.5e-4,6.2e-4,5.2e-4,4.3e-4,3.6e-4,3e-4,2.5e-4,2.1e-4,1.7e-4,1.4e-4,1.2e-4,1e-4,6e-5,4e-5]],
[188.5,[2.1e-3,1.75e-3,1.45e-3,1.2e-3,1e-3,8.3e-4,6.9e-4,5.7e-4,4.75e-4,3.95e-4,3.3e-4,2.75e-4,2.3e-4,1.9e-4,1.55e-4,1.3e-4,1.05e-4,8e-5]],
[191,[2.4e-3,2e-3,1.65e-3,1.35e-3,1.15e-3,9.5e-4,7.8e-4,6.5e-4,5.4e-4,4.5e-4,3.7e-4,3.1e-4,2.6e-4,2.2e-4,1.8e-4,1.5e-4,1.2e-4,9e-5,5e-5,2.4e-5]],
[194,[2.2e-3,1.8e-3,1.5e-3,1.25e-3,1.02e-3,8.5e-4,7e-4,5.8e-4,4.8e-4,4e-4,3.3e-4,2.75e-4,2.3e-4,1.9e-4,1.55e-4,1.25e-4,1e-4,7e-5]],
[197,[2.2e-3,1.8e-3,1.5e-3,1.25e-3,1.05e-3,8.7e-4,7.2e-4,6e-4,5e-4,4.1e-4,3.4e-4,2.8e-4,2.3e-4,1.9e-4,1.6e-4,1.3e-4,1e-4,7e-5,4.5e-5,1.8e-5]],
[209,[2.4e-3,2e-3,1.6e-3,1.3e-3,1.1e-3,9e-4,7.5e-4,6.2e-4,5.2e-4,4.3e-4,3.6e-4,3e-4,2.5e-4,2.1e-4,1.7e-4,1.4e-4,1.1e-4,8e-5,5e-5,3e-5]],
[212,[2.3e-3,1.85e-3,1.5e-3,1.25e-3,1.03e-3,8.5e-4,7e-4,5.8e-4,4.8e-4,4e-4,3.35e-4,2.8e-4,2.3e-4,1.9e-4,1.55e-4,1.25e-4,9.5e-5]],
[215,[2.2e-3,1.8e-3,1.5e-3,1.25e-3,1.05e-3,8.7e-4,7.2e-4,6e-4,5e-4,4.1e-4,3.4e-4,2.8e-4,2.3e-4,1.9e-4,1.6e-4,1.3e-4,9e-5,5e-5,2e-5]],
[218.5,[2.1e-3,1.75e-3,1.45e-3,1.2e-3,1e-3,8.3e-4,6.9e-4,5.7e-4,4.75e-4,3.95e-4,3.3e-4,2.75e-4,2.2e-4,1.8e-4,1.45e-4,1.1e-4]],
[222,[2e-3,1.7e-3,1.4e-3,1.15e-3,9.5e-4,7.8e-4,6.5e-4,5.4e-4,4.5e-4,3.7e-4,3.1e-4,2.6e-4,2.1e-4,1.7e-4,1.3e-4,9e-5,4.5e-5,1.5e-5]],
[255,[1.5e-3,1.25e-3,1.05e-3,8.7e-4,7.2e-4,6e-4,5e-4,4.1e-4,3.4e-4,2.8e-4,2.3e-4,1.9e-4,1.6e-4,1.3e-4,1.1e-4,9e-5,7e-5,4e-5,2e-5]],
[258.5,[1.45e-3,1.2e-3,9.8e-4,8e-4,6.6e-4,5.5e-4,4.6e-4,3.8e-4,3.1e-4,2.6e-4,2.15e-4,1.8e-4,1.5e-4,1.25e-4,1e-4,8e-5,6.5e-5]],
[262,[1.7e-3,1.4e-3,1.15e-3,9.5e-4,7.8e-4,6.5e-4,5.4e-4,4.5e-4,3.7e-4,3.1e-4,2.6e-4,2.1e-4,1.7e-4,1.4e-4,1.15e-4,9.5e-5,7.5e-5,5e-5,3e-5,1.5e-5]],
[266,[1.45e-3,1.2e-3,9.8e-4,8e-4,6.6e-4,5.5e-4,4.6e-4,3.8e-4,3.1e-4,2.6e-4,2.15e-4,1.8e-4,1.5e-4,1.25e-4,1e-4,8e-5,6.5e-5]],
[270,[1.6e-3,1.3e-3,1.1e-3,9e-4,7.5e-4,6.2e-4,5.2e-4,4.3e-4,3.6e-4,3e-4,2.5e-4,2.1e-4,1.7e-4,1.4e-4,1.15e-4,9.5e-5,7e-5,4.5e-5,2.5e-5,1e-5]],
[274,[1.55e-3,1.28e-3,1.05e-3,8.6e-4,7.1e-4,5.9e-4,4.9e-4,4e-4,3.3e-4,2.75e-4,2.3e-4,1.9e-4,1.55e-4,1.3e-4,1.05e-4,8.5e-5,6.5e-5]],
[278,[1.8e-3,1.5e-3,1.25e-3,1.05e-3,8.7e-4,7.2e-4,6e-4,5e-4,4.1e-4,3.4e-4,2.8e-4,2.3e-4,1.9e-4,1.6e-4,1.3e-4,1.05e-4,8e-5,5.5e-5,3.5e-5,1.8e-5]],
[282,[1.6e-3,1.32e-3,1.1e-3,9e-4,7.4e-4,6.1e-4,5e-4,4.15e-4,3.4e-4,2.8e-4,2.35e-4,1.95e-4,1.6e-4,1.3e-4,1.05e-4,8.5e-5,6.5e-5]],
[286,[2.3e-3,1.6e-3,1.3e-3,1.1e-3,9e-4,7.5e-4,6.2e-4,5.2e-4,4.3e-4,3.6e-4,3e-4,2.5e-4,2.1e-4,1.7e-4,1.4e-4,1.1e-4,8.5e-5,6e-5,4e-5,2e-5]],
[290.5,[1.45e-3,1.2e-3,9.8e-4,8e-4,6.6e-4,5.5e-4,4.6e-4,3.8e-4,3.1e-4,2.6e-4,2.15e-4,1.8e-4,1.5e-4,1.25e-4,1e-4,8e-5,6.5e-5]],
[295,[1.5e-3,1.25e-3,1.05e-3,8.7e-4,7.2e-4,6e-4,5e-4,4.1e-4,3.4e-4,2.8e-4,2.3e-4,1.9e-4,1.6e-4,1.3e-4,1.05e-4,8.5e-5,6e-5,3.5e-5,1.2e-5]],
[299.5,[1.55e-3,1.28e-3,1.05e-3,8.6e-4,7.1e-4,5.9e-4,4.9e-4,4e-4,3.3e-4,2.75e-4,2.3e-4,1.9e-4,1.55e-4,1.3e-4,1.05e-4,8.5e-5,6.5e-5]],
[304,[1.6e-3,1.3e-3,1.1e-3,9e-4,7.5e-4,6.2e-4,5.2e-4,4.3e-4,3.6e-4,3e-4,2.5e-4,2.1e-4,1.7e-4,1.4e-4,1.15e-4,9e-5,7e-5,4.5e-5,2.5e-5]],
[309,[1.5e-3,1.24e-3,1.02e-3,8.4e-4,6.9e-4,5.7e-4,4.7e-4,3.9e-4,3.2e-4,2.65e-4,2.2e-4,1.8e-4,1.5e-4,1.25e-4,1e-4,8e-5,6e-5]],
[314,[1.7e-3,1.4e-3,1.15e-3,9.5e-4,7.8e-4,6.5e-4,5.4e-4,4.5e-4,3.7e-4,3.1e-4,2.6e-4,2.1e-4,1.7e-4,1.4e-4,1.15e-4,9.5e-5,7.5e-5,5e-5,3e-5]],
[319,[1.55e-3,1.28e-3,1.05e-3,8.6e-4,7.1e-4,5.9e-4,4.9e-4,4e-4,3.3e-4,2.75e-4,2.3e-4,1.9e-4,1.55e-4,1.3e-4,1.05e-4,8.5e-5,6.5e-5]],
[324,[1.6e-3,1.3e-3,1.1e-3,9e-4,7.5e-4,6.2e-4,5.2e-4,4.3e-4,3.6e-4,3e-4,2.5e-4,2.1e-4,1.7e-4,1.4e-4,1.15e-4,9e-5,6.5e-5,4e-5,2.2e-5]],
[329.5,[1.45e-3,1.2e-3,9.8e-4,8e-4,6.6e-4,5.5e-4,4.6e-4,3.8e-4,3.1e-4,2.6e-4,2.15e-4,1.8e-4,1.5e-4,1.25e-4,1e-4,8e-5,6.5e-5]],
[335,[1.5e-3,1.25e-3,1.05e-3,8.7e-4,7.2e-4,6e-4,5e-4,4.1e-4,3.4e-4,2.8e-4,2.3e-4,1.9e-4,1.6e-4,1.3e-4,1.05e-4,8e-5,5.5e-5,3.5e-5,1.5e-5]],
[340.5,[1.55e-3,1.28e-3,1.05e-3,8.6e-4,7.1e-4,5.9e-4,4.9e-4,4e-4,3.3e-4,2.75e-4,2.3e-4,1.9e-4,1.55e-4,1.3e-4,1.05e-4,8.5e-5,6.5e-5]],
[346,[1.4e-3,1.15e-3,9.5e-4,7.8e-4,6.5e-4,5.4e-4,4.5e-4,3.7e-4,3.1e-4,2.6e-4,2.1e-4,1.7e-4,1.4e-4,1.1e-4,8.5e-5,6e-5,4e-5,2e-5]]
];
const xMajorTicks = [10, 100];
const xMinorTicks = [8, 9, 20, 30, 40, 50, 60, 70, 80, 90, 200, 300, 400];
const xTickLabels = ["1", "2"];
const yMajorExps = [0, -1, -2, -3, -4, -5];
const yTickLabels = ["0", "\u22121", "\u22122", "\u22123", "\u22124", "\u22125"];
const legendLabels = ["3ph(300K)", "isotope", "L=1000nm"];

// ---- axes geometry ----
const PL = 326, PR = 1394, PT = 59, PB = 1016;
const X0 = 405, XDEC = 612;
const Y0 = 207, YDEC = 155;
function xScale(f){ return X0 + XDEC * (Math.log10(f) - 1); }
function yScale(r){ return Y0 - YDEC * Math.log10(r); }

const NS = "http://www.w3.org/2000/svg";
function mk(tag, attrs, parent){
  const e = document.createElementNS(NS, tag);
  for (const k in attrs) e.setAttribute(k, attrs[k]);
  parent.appendChild(e);
  return e;
}
const marks = document.getElementById('marks');
const axes = document.getElementById('axes');
const legend = document.getElementById('legend');

const defs = mk('defs', {}, marks);
const cp = mk('clipPath', {id:'plotclip'}, defs);
mk('rect', {x:PL, y:PT, width:PR-PL, height:PB-PT}, cp);

const C_BLUE = "#1f77b4", C_ORANGE = "#ff7f0e", C_GREEN = "#2ca02c";

function circle(g, cx, cy){
  const e = mk('circle', {cx:cx.toFixed(1), cy:cy.toFixed(1), r:5.6, fill:'none', stroke:C_BLUE, 'stroke-width':2.9}, g);
  
  
}
function tri(g, cx, cy){
  const s = 7.5;
  const p = [cx, cy - s, cx + s*0.95, cy + s*0.7, cx - s*0.95, cy + s*0.7].map(v=>v.toFixed(1));
  const e = mk('polygon', {points:`${p[0]},${p[1]} ${p[2]},${p[3]} ${p[4]},${p[5]}`, fill:'none', stroke:C_ORANGE, 'stroke-width':3, 'stroke-linejoin':'miter'}, g);
  
  
}
function sq(g, cx, cy){
  const e = mk('rect', {x:(cx-5.2).toFixed(1), y:(cy-5.2).toFixed(1), width:10.4, height:10.4, fill:'none', stroke:C_GREEN, 'stroke-width':2.9}, g);
  
  
}

function drawSeries(data, fn, name){
  const g = mk('g', {'clip-path':'url(#plotclip)'}, marks);
  
  
  data.forEach(col => {
    const f = col[0];
    col[1].forEach(r => fn(g, xScale(f), yScale(r)));
  });
}
drawSeries(series3ph, circle, 'series-3ph');
drawSeries(seriesIsotope, tri, 'series-isotope');
drawSeries(seriesL1000, sq, 'series-l1000nm');

// ---- ticks ----
const tickG = mk('g', {stroke:'#000', 'stroke-width':2.6}, axes);


function xt(f, len){
  const x = xScale(f);
  if (x < PL || x > PR) return;
  mk('line', {x1:x, y1:PB, x2:x, y2:PB-len}, tickG);
  mk('line', {x1:x, y1:PT, x2:x, y2:PT+len}, tickG);
}
xMajorTicks.forEach(f => xt(f, 17));
xMinorTicks.forEach(f => xt(f, 10));
function yt(r, len){
  const y = yScale(r);
  if (y < PT || y > PB) return;
  mk('line', {x1:PL, y1:y, x2:PL+len, y2:y}, tickG);
  mk('line', {x1:PR, y1:y, x2:PR-len, y2:y}, tickG);
}
for (let e = -6; e <= 1; e++){
  if (yMajorExps.includes(e)) yt(Math.pow(10,e), 17);
  for (let m = 2; m <= 9; m++) yt(m*Math.pow(10,e), 10);
}
const frame = mk('rect', {x:PL, y:PT, width:PR-PL, height:PB-PT, fill:'none', stroke:'#000', 'stroke-width':3}, axes);



// ---- tick labels ----
function powLabel(x, y, sup, anchor, name){
  const t = mk('text', {x:x, y:y, 'font-size':56, fill:'#000', 'text-anchor':anchor}, axes);
  
  
  const a = document.createElementNS(NS, 'tspan'); a.textContent = '10'; t.appendChild(a);
  const b = document.createElementNS(NS, 'tspan');
  b.setAttribute('font-size', 39); b.setAttribute('dy', -25); b.textContent = sup; t.appendChild(b);
}
xMajorTicks.forEach((f,i) => powLabel(xScale(f) - 44, 1090, xTickLabels[i], 'start', 'x-tick-label'));
yMajorExps.forEach((e,i) => powLabel(297, yScale(Math.pow(10,e)) + 21, yTickLabels[i], 'end', 'y-tick-label'));

// ---- axis titles ----
const xl = mk('text', {x:862, y:1192, 'font-size':58, 'text-anchor':'middle', fill:'#000'}, axes);


xl.innerHTML = 'Frequency (cm<tspan font-size="40" dy="-26">\u22121</tspan><tspan dy="26">)</tspan>';
const yl = mk('text', {x:0, y:0, 'font-size':58, 'text-anchor':'middle', fill:'#000', transform:'translate(115,537) rotate(-90)'}, axes);


yl.innerHTML = 'Scattering Rate (ps<tspan font-size="40" dy="-26">\u22121</tspan><tspan dy="26">)</tspan>';

// ---- legend ----
const lb = mk('rect', {x:351, y:84, width:387, height:213, fill:'#fff', stroke:'#999', 'stroke-width':1.6}, legend);


const lfns = [circle, tri, sq];
const rowsY = [126, 189, 252];
legendLabels.forEach((lab, i) => {
  const g = mk('g', {}, legend);
  
  
  lfns[i](g, 396, rowsY[i]);
  const t = mk('text', {x:443, y:rowsY[i] + 17, 'font-size':46, fill:'#000'}, g);
  
  
  t.textContent = lab;
});
</script>
</body></html>
